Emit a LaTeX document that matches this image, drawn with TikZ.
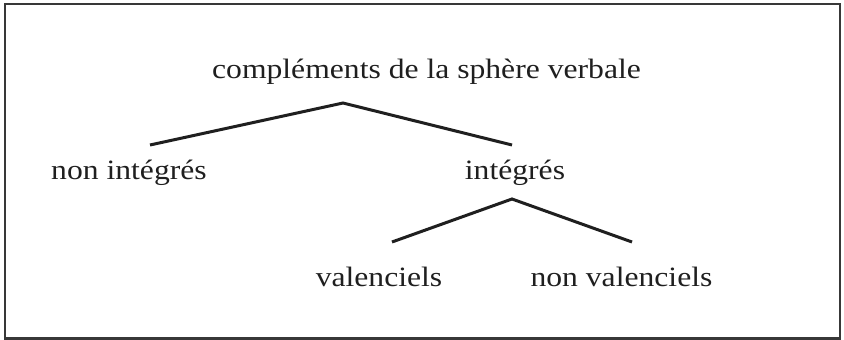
\documentclass[tikz,border=0pt]{standalone}
\usepackage{fontspec}
\setmainfont[FakeStretch=1.13]{Liberation Serif}
\begin{document}
\begin{tikzpicture}[x=1pt,y=-1pt,
  lbl/.style={anchor=base,inner sep=0pt,text=black!88,font=\fontsize{28}{32}\selectfont},
  branch/.style={line width=3pt,black!88}]
\useasboundingbox (0,0) rectangle (844,340);
\draw[line width=2.8pt,black!78] (5,4) rectangle (840,338.5);
\node[lbl] (root) at (426.5,78) {compléments de la sphère verbale};
\node[lbl] (ni) at (129,179) {non intégrés};
\node[lbl] (in) at (515,179) {intégrés};
\node[lbl] (val) at (379,286) {valenciels};
\node[lbl] (nval) at (621.5,286) {non valenciels};
\coordinate (r0) at (343,103);
\coordinate (r1) at (150,145);
\coordinate (r2) at (512,145);
\coordinate (i0) at (512,199);
\coordinate (i1) at (392,242);
\coordinate (i2) at (632,242);
\draw[branch] (r1) -- (r0) -- (r2);
\draw[branch] (i1) -- (i0) -- (i2);
\end{tikzpicture}
\end{document}
